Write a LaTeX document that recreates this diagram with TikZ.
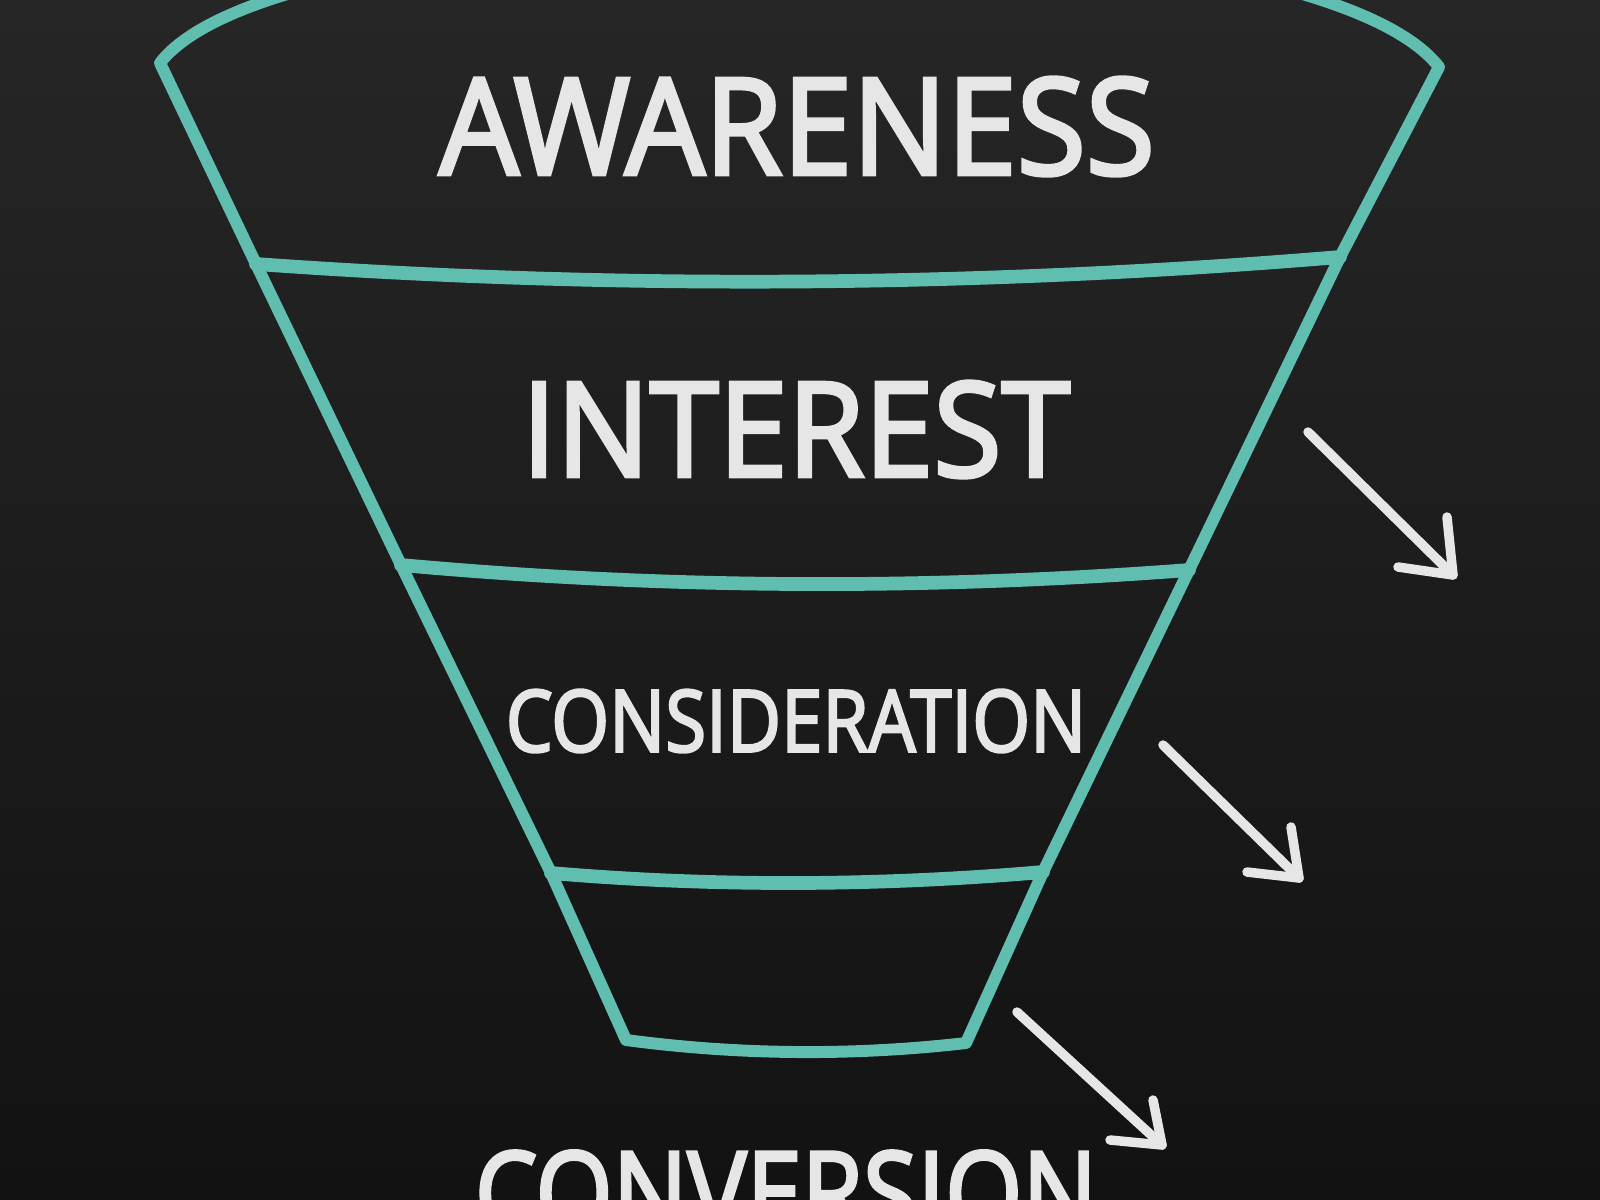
\documentclass[tikz,border=0pt]{standalone}
\usepackage{fontspec}
\usepackage{graphicx}
\newfontfamily\lbl[FakeBold=3]{Open Sans}
\usetikzlibrary{calc}
\definecolor{bgtop}{RGB}{38,38,38}
\definecolor{bgbot}{RGB}{18,18,18}
\definecolor{funnelteal}{RGB}{96,190,176}
\definecolor{chalk}{RGB}{230,230,230}
\begin{document}
\begin{tikzpicture}[x=0.01cm,y=-0.01cm,
  funnel/.style={draw=funnelteal, line width=3.4pt, line cap=round, line join=round},
  band/.style={funnel, line width=3.9pt},
  arrowline/.style={draw=chalk, line width=2.7pt, line cap=round, line join=round},
  stage/.style={inner sep=0pt, text=chalk, font=\lbl}]
\useasboundingbox (0,0) rectangle (1600,1200);
\clip (0,0) rectangle (1600,1200);
\shade[top color=bgtop, bottom color=bgbot] (0,0) rectangle (1600,1200);

% funnel corner points
\coordinate (tl) at (160,63);
\coordinate (tr) at (1439,67);
\coordinate (l1) at (256,264);
\coordinate (r1) at (1340,257);
\coordinate (l2) at (401,565);
\coordinate (r2) at (1189,570);
\coordinate (l3) at (551,873);
\coordinate (r3) at (1043,872);
\coordinate (bl) at (626,1040);
\coordinate (br) at (966,1043);

% outline
\draw[funnel] (tl) .. controls (290,-105) and (1305,-105) .. (tr)
  -- (r1) -- (r2) -- (r3) -- (br)
  .. controls (853,1056) and (739,1055) .. (bl)
  -- (l3) -- (l2) -- (l1) -- cycle;

% bands
\draw[band] (l1) .. controls (617,290) and (979,287) .. (r1);
\draw[band] (l2) .. controls (664,589) and (926,590) .. (r2);
\draw[band] (l3) .. controls (715,887) and (879,886) .. (r3);

% labels
\node[stage] (awareness) at (797,126.5) {\resizebox{7.15cm}{0.97cm}{AWARENESS}};
\node[stage] (interest) at (796,429.5) {\resizebox{5.48cm}{0.95cm}{INTEREST}};
\node[stage] (consideration) at (796,721) {\resizebox{5.80cm}{0.62cm}{CONSIDERATION}};
\node[stage, anchor=north] (conversion) at (786,1150) {\resizebox{6.22cm}{0.83cm}{CONVERSION}};

% arrows
\coordinate (a1s) at (1308,432);
\coordinate (a1t) at (1453,575);
\draw[arrowline] (a1s) -- (a1t);
\draw[arrowline] ($(a1t)+(-6,-58)$) -- (a1t) -- ($(a1t)+(-55,-8)$);

\coordinate (a2s) at (1163,745);
\coordinate (a2t) at (1299,878);
\draw[arrowline] (a2s) -- (a2t);
\draw[arrowline] ($(a2t)+(-8,-51)$) -- (a2t) -- ($(a2t)+(-52,-6)$);

\coordinate (a3s) at (1017,1012);
\coordinate (a3t) at (1162,1145);
\draw[arrowline] (a3s) -- (a3t);
\draw[arrowline] ($(a3t)+(-9,-45)$) -- (a3t) -- ($(a3t)+(-52,-5)$);
\end{tikzpicture}
\end{document}
